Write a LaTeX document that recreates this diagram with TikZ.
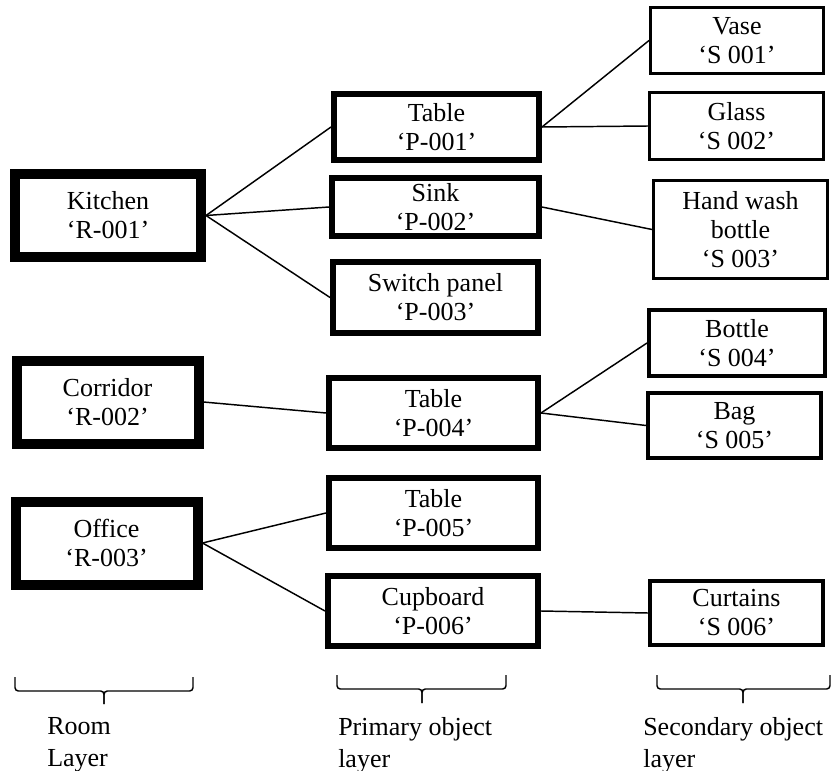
\documentclass[tikz,border=0pt]{standalone}
\usepackage{fontspec}
\setmainfont{Liberation Serif}
\begin{document}
\begin{tikzpicture}[x=0.75pt,y=-0.75pt,
  base/.style={draw=black, fill=white, rectangle, inner sep=0pt, align=center,
    font=\fontsize{19.5}{21.75}\selectfont},
  room/.style={base, line width=7.5pt},
  prim/.style={base, line width=4.5pt},
  sec/.style={base, line width=2.25pt},
  secb/.style={base, line width=3pt},
  link/.style={draw=black, line width=1.1pt},
  layerbrace/.style={draw=black, line width=1.1pt, rounded corners=2.5pt},
  layerlabel/.style={anchor=north west, inner sep=0pt, align=left,
    font=\fontsize{19.5}{24}\selectfont}
]
\useasboundingbox (0,0) rectangle (832,771);

% room layer
\node[room, minimum width=139.5pt, minimum height=62.25pt] (r1) at (108,215.5) {Kitchen\\‘R-001’};
\node[room, minimum width=136.5pt, minimum height=62.25pt] (r2) at (107.5,402) {Corridor\\‘R-002’};
\node[room, minimum width=136.5pt, minimum height=62.25pt] (r3) at (106.5,543) {Office\\‘R-003’};

% primary object layer
\node[prim, minimum width=153.75pt, minimum height=49.5pt] (p1) at (436.5,127) {Table\\‘P-001’};
\node[prim, minimum width=155.25pt, minimum height=43.5pt] (p2) at (435.5,207) {Sink\\‘P-002’};
\node[prim, minimum width=153.75pt, minimum height=53.25pt] (p3) at (435.5,297.5) {Switch panel\\‘P-003’};
\node[prim, minimum width=156.75pt, minimum height=52.5pt] (p4) at (433.5,413) {Table\\‘P-004’};
\node[prim, minimum width=156.75pt, minimum height=52.5pt] (p5) at (433.5,513) {Table\\‘P-005’};
\node[prim, minimum width=157.5pt, minimum height=52.5pt] (p6) at (433,611) {Cupboard\\‘P-006’};

% secondary object layer
\node[sec, minimum width=129.75pt, minimum height=49.5pt] (s1) at (737,40.5) {Vase\\‘S 001’};
\node[sec, minimum width=130.5pt, minimum height=50.25pt] (s2) at (736.5,126) {Glass\\‘S 002’};
\node[sec, minimum width=130.5pt, minimum height=73.5pt] (s3) at (740.5,229.5) {Hand wash\\bottle\\‘S 003’};
\node[secb, minimum width=132pt, minimum height=49.5pt] (s4) at (737,343) {Bottle\\‘S 004’};
\node[secb, minimum width=129.75pt, minimum height=48.75pt] (s5) at (734.5,425.5) {Bag\\‘S 005’};
\node[secb, minimum width=129.75pt, minimum height=48pt] (s6) at (736.5,613) {Curtains\\‘S 006’};

% links between layers
\draw[link] (r1.east) -- (p1.west);
\draw[link] (r1.east) -- (p2.west);
\draw[link] (r1.east) -- (p3.west);
\draw[link] (r2.east) -- (p4.west);
\draw[link] (r3.east) -- (p5.west);
\draw[link] (r3.east) -- (p6.west);
\draw[link] (p1.east) -- (s1.west);
\draw[link] (p1.east) -- (s2.west);
\draw[link] (p2.east) -- (s3.west);
\draw[link] (p4.east) -- (s4.west);
\draw[link] (p4.east) -- (s5.west);
\draw[link] (p6.east) -- (s6.west);

% layer braces: square-ended brackets with a short tip in the middle
\draw[layerbrace] (15,677) -- (15,691) -- (104,691) -- (104,704);
\draw[layerbrace] (193,677) -- (193,691) -- (104,691) -- (104,704);
\draw[layerbrace] (337,675) -- (337,689) -- (422,689) -- (422,703);
\draw[layerbrace] (506,675) -- (506,689) -- (422,689) -- (422,703);
\draw[layerbrace] (657,675) -- (657,689) -- (743,689) -- (743,703);
\draw[layerbrace] (830,675) -- (830,689) -- (743,689) -- (743,703);

% layer captions
\node[layerlabel] (lr) at (47,717) {Room\\Layer};
\node[layerlabel] (lp) at (338,717) {Primary object\\layer};
\node[layerlabel] (ls) at (643,717) {Secondary object\\layer};
\end{tikzpicture}
\end{document}
